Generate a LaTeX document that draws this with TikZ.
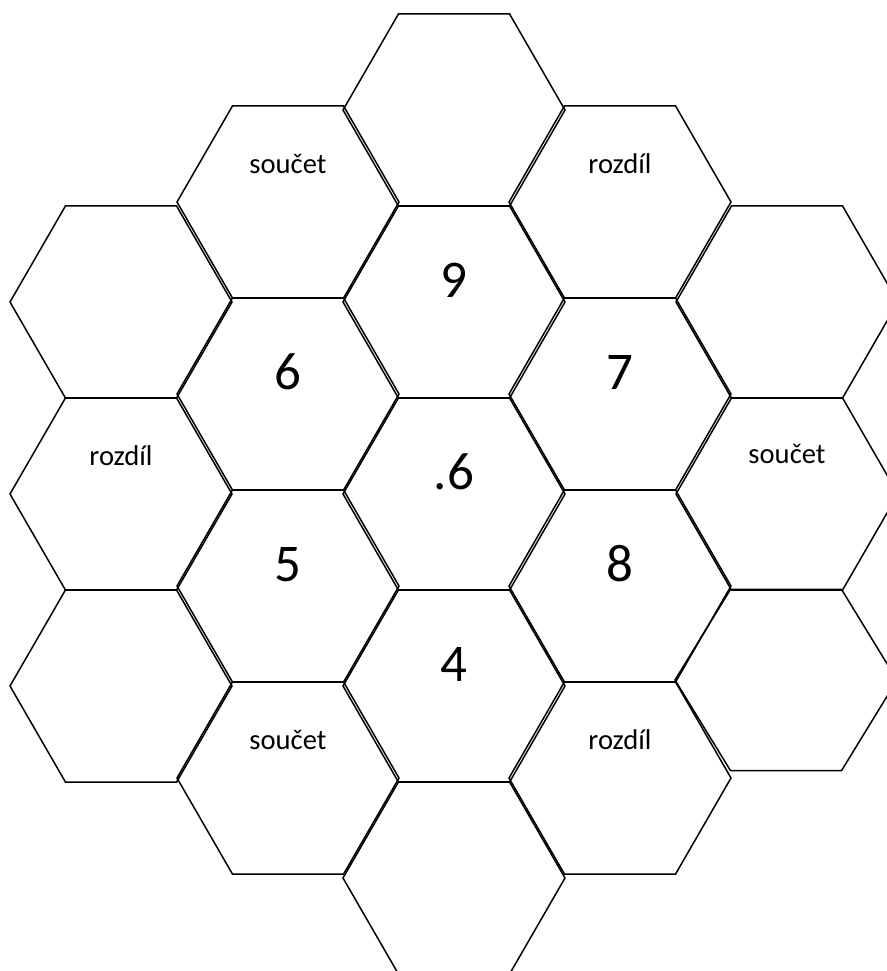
\documentclass[tikz,border=0pt]{standalone}
\usepackage{fontspec}
\setmainfont{Carlito}
\usetikzlibrary{shapes.geometric, positioning}
\tikzset{
  hexcell/.style={draw=black, regular polygon, regular polygon sides=6, minimum size=111pt, inner sep=0pt, line width=0.75pt},
  wordlbl/.style={anchor=base, inner sep=0pt, font=\fontsize{14.3}{17}\selectfont},
  numlbl/.style={anchor=base, inner sep=0pt, font=\fontsize{26.5}{32}\selectfont}
}

\begin{document}
\begin{tikzpicture}[x=0.5pt, y=-0.5pt]

\useasboundingbox (0,0) rectangle (887,971);
\clip (0,0) rectangle (887,971);

% middle column
\foreach \n/\cx/\cy in {m1/454/110, m2/454/302, m3/454/494, m4/454/686, m5/454/878}
  \node[hexcell] (\n) at (\cx,\cy) {};
% inner columns
\foreach \n/\cx/\cy in {l1/288/202, l2/288/394, l3/288/586, l4/288/778}
  \node[hexcell] (\n) at (\cx,\cy) {};
\foreach \n/\cx/\cy in {r1/620/202, r2/620/394, r3/620/586, r4/620/778}
  \node[hexcell] (\n) at (\cx,\cy) {};
% outer columns
\foreach \n/\cx/\cy in {ll1/121/302, ll2/121/494, ll3/121/686}
  \node[hexcell] (\n) at (\cx,\cy) {};
\foreach \n/\cx/\cy in {rr1/787/302, rr2/787/494}
  \node[hexcell] (\n) at (\cx,\cy) {};
% last one is a little squashed
\begin{scope}[shift={(786,680)}, yscale=0.943]
  \node[hexcell, transform shape] (rr3) at (0,0) {};
\end{scope}

% word labels
\node[wordlbl] (w-l1) at ([yshift=14.5pt]l1.center) {součet};
\node[wordlbl] (w-r1) at ([yshift=14.5pt]r1.center) {rozdíl};
\node[wordlbl] (w-ll2) at ([yshift=14.5pt]ll2.center) {rozdíl};
\node[wordlbl] (w-rr2) at ([yshift=15.5pt]rr2.center) {součet};
\node[wordlbl] (w-l4) at ([yshift=14.5pt]l4.center) {součet};
\node[wordlbl] (w-r4) at ([yshift=14.5pt]r4.center) {rozdíl};

% numbers
\node[numlbl] (n-m2) at ([yshift=2.5pt]m2.center) {9};
\node[numlbl] (n-l2) at ([yshift=2.5pt]l2.center) {6};
\node[numlbl] (n-r2) at ([yshift=2.5pt]r2.center) {7};
\node[numlbl] (n-m3) at ([yshift=2.5pt]m3.center) {.6};
\node[numlbl] (n-l3) at ([yshift=2.5pt]l3.center) {5};
\node[numlbl] (n-r3) at ([yshift=2.5pt]r3.center) {8};
\node[numlbl] (n-m4) at ([yshift=2.5pt]m4.center) {4};

\end{tikzpicture}
\end{document}
